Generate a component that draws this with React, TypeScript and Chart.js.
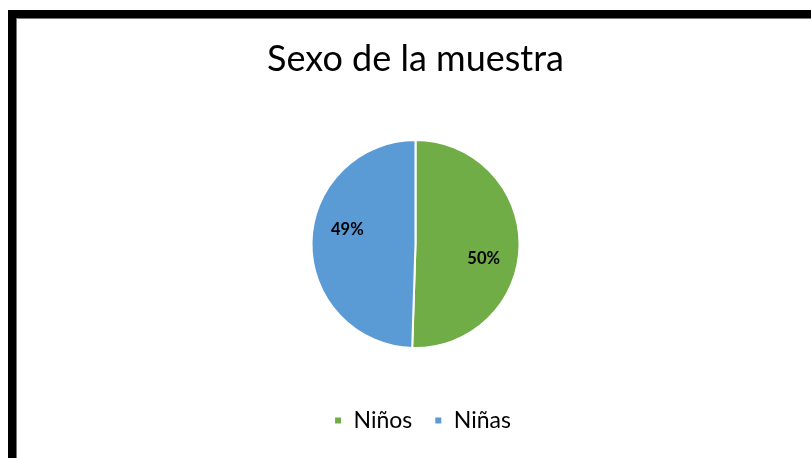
import React, { useEffect, useRef } from "react";
import { Chart, registerables } from "chart.js";

Chart.register(...registerables);

const categories = ["Niños", "Niñas"];
const values = [50, 49];
const percentLabels = ["50%", "49%"];
const colors = ["#70AD47", "#5B9BD5"];
const titleText = "Sexo de la muestra";

const labelPlugin = {
  id: "sliceLabels",
  afterLayout(chart: any) {
    if (chart.legend) {
      chart.legend.left += 7;
      chart.legend.right += 7;
    }
  },
  afterDatasetsDraw(chart: any) {
    const ctx = chart.ctx;
    const meta = chart.getDatasetMeta(0);
    ctx.save();
    ctx.font = "bold 16.5px Lato";
    ctx.fillStyle = "#000";
    ctx.textAlign = "center";
    ctx.textBaseline = "middle";
    meta.data.forEach((arc: any, i: number) => {
      const p = arc.getProps(["x", "y", "startAngle", "endAngle", "outerRadius"], true);
      const mid = (p.startAngle + p.endAngle) / 2 + (11 * Math.PI) / 180;
      const r = p.outerRadius * 0.67;
      ctx.fillText(percentLabels[i], p.x + Math.cos(mid) * r, p.y + Math.sin(mid) * r);
    });
    ctx.restore();
  },
};

export default function App() {
  const ref = useRef<HTMLCanvasElement>(null);
  useEffect(() => {
    if (!ref.current) return;
    const chart = new Chart(ref.current, {
      type: "pie",
      data: {
        labels: categories,
        datasets: [
          {
            data: values,
            backgroundColor: colors,
            borderColor: "#fff",
            borderWidth: 2,
            radius: 104,
          },
        ],
      },
      options: {
        animation: false,
        responsive: true,
        maintainAspectRatio: false,
        layout: { padding: { top: 0, bottom: 16, left: 3, right: 0 } },
        plugins: {
          title: {
            display: true,
            text: titleText,
            color: "#000",
            font: { family: "Lato", size: 36, weight: "normal" },
            padding: { top: 19, bottom: 20 },
          },
          legend: {
            position: "bottom",
            labels: {
              color: "#000",
              font: { family: "Lato", size: 23 },
              boxWidth: 8,
              boxHeight: 8,
              padding: 22,
            },
          },
          tooltip: { enabled: false },
        },
      },
      plugins: [labelPlugin],
    });
    return () => chart.destroy();
  }, []);
  return (
    <div
      style={{
        position: "absolute",
        left: 8,
        top: 10,
        width: 803,
        height: 448,
        borderTop: "8px solid #000",
        borderLeft: "8px solid #000",
        boxSizing: "border-box",
        background: "#fff",
      }}
    >
      <div
        style={{
          position: "absolute",
          inset: 0,
          borderTop: "1px solid #777",
          borderLeft: "1px solid #777",
        }}
      >
        <div style={{ position: "absolute", left: 0, top: 0, right: 0, bottom: 0 }}>
          <canvas ref={ref} />
        </div>
      </div>
    </div>
  );
}
